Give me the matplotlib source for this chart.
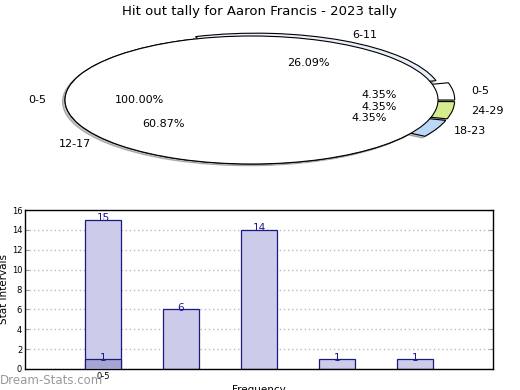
import matplotlib
matplotlib.use("Agg")
import matplotlib.pyplot as plt

titulo = "Hit out tally for Aaron Francis - 2023 tally"

# fatias do anel externo (ordem anti-horaria)
fatias_labels = ["18-23", "24-29", "0-5", "6-11", "12-17"]
fatias_valores = [1, 1, 1, 6, 14]
fatias_cores = ["#bcd8f8", "#d6eb8e", "#ffffff", "#e8eefa", "#ffffff"]
fatias_explode = [0.09, 0.09, 0.09, 0.05, 0.0]

# pizza interna
interna_labels = ["0-5"]
interna_valores = [1]

# barras
barras_valores = [15, 6, 14, 1, 1]
destaque_valores = [1]
xtick_labels = ["0-5"]

W, H = 520, 390
fig = plt.figure(figsize=(W / 100, H / 100), dpi=100)

fig.text(0.5, 1 - 11 / H, titulo, ha="center", va="center", fontsize=9.5)

# --- pizza achatada ---
cx, cy, rx, ry = 251.5, 100, 186.5, 64
top_px, bot_px = 20, 185
ax = fig.add_axes([0, (H - bot_px) / H, 1, (bot_px - top_px) / H])
ax.pie(fatias_valores, labels=fatias_labels, colors=fatias_cores, explode=fatias_explode,
       startangle=-32, autopct="%.2f%%", pctdistance=0.6, labeldistance=1.1,
       shadow=dict(ox=-0.01, oy=-0.02, alpha=0.35),
       wedgeprops=dict(edgecolor="black", linewidth=0.8), textprops=dict(fontsize=8))
ax.pie(interna_valores, labels=interna_labels, colors=["#ffffff"], startangle=0,
       autopct="%.2f%%", pctdistance=0.6, labeldistance=1.1,
       wedgeprops=dict(edgecolor="black", linewidth=0.8), textprops=dict(fontsize=8))
ax.set_aspect("auto")
ax.set_xlim(-cx / rx, (W - cx) / rx)
ax.set_ylim(-(bot_px - cy) / ry, (cy - top_px) / ry)
ax.axis("off")

# --- barras ---
ax2 = fig.add_axes([25 / W, (H - 369) / H, 468 / W, 159 / H])
pos = list(range(len(barras_valores)))
ax2.bar(pos, barras_valores, width=0.46, color="#ccccea", edgecolor="#1a1a80", linewidth=0.9, zorder=2)
ax2.bar(pos[:len(destaque_valores)], destaque_valores, width=0.46, color="#a6a6d2",
        edgecolor="#1a1a80", linewidth=0.9, zorder=3)
for x, v in zip(pos, barras_valores):
    ax2.annotate(str(v), (x, v), xytext=(0, -2.5), textcoords="offset points",
                 ha="center", va="bottom", fontsize=7.5, color="#1a1a90", zorder=4)
for x, v in zip(pos, destaque_valores):
    ax2.annotate(str(v), (x, v), xytext=(0, -2.5), textcoords="offset points",
                 ha="center", va="bottom", fontsize=7.5, color="#1a1a90", zorder=4)

ax2.set_xlim(-1, 5)
ax2.set_ylim(0, 16)
ax2.set_yticks(range(0, 17, 2))
ax2.set_xticks(pos[:len(xtick_labels)])
ax2.set_xticklabels(xtick_labels)
ax2.tick_params(axis="both", labelsize=6, direction="in", length=3, color="#999999",
                right=True, pad=2)
ax2.grid(True, linestyle=(0, (1, 2)), color="#bbbbbb", linewidth=1, zorder=0)
ax2.set_axisbelow(True)
ax2.set_ylabel("Stat Intervals", fontsize=7.5, labelpad=2)
ax2.set_xlabel("Frequency", fontsize=7.5, labelpad=3)
for s in ax2.spines.values():
    s.set_linewidth(1)

fig.text(0, 1 - 380 / H, "Dream-Stats.com", ha="left", va="center", fontsize=8.5,
         color="#999999")

fig.savefig("out.png", dpi=100)
